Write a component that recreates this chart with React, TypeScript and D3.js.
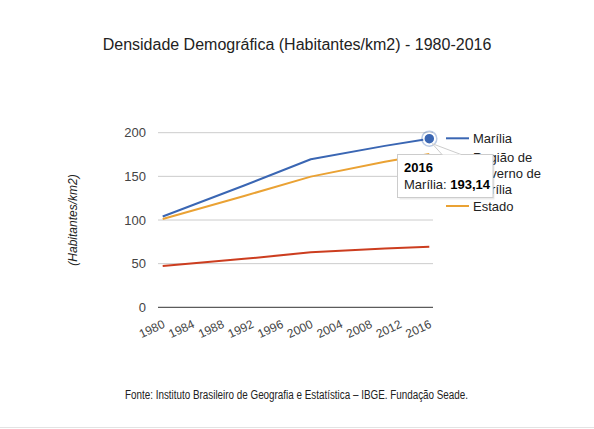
import React from "react";
import * as d3 from "d3";

const years = [1980, 1991, 2000, 2010, 2016];
const mariliaValues = [104, 139.5, 169.6, 184.9, 193.14];
const regiaoValues = [47.3, 55.5, 63, 67.3, 69.5];
const estadoValues = [101.2, 127.5, 149.7, 166.8, 175.5];
const xTickLabels = [1980, 1984, 1988, 1992, 1996, 2000, 2004, 2008, 2012, 2016];
const yTickValues = [0, 50, 100, 150, 200];
const seriesNames = ["Marília", "Região de Governo de Marília", "Estado"];
const legendLines = [["Marília"], ["Região de", "Governo de", "Marília"], ["Estado"]];

const W = 594;
const H = 429;
const colors = ["#3a66b3", "#cc3d1f", "#eaa234"];
const FONT = "Arial, 'Liberation Sans', sans-serif";

export default function App() {
  const x = d3.scaleLinear().domain([1980, 2016]).range([162.7, 429.3]);
  const y = d3.scaleLinear().domain([0, 200]).range([307.3, 132.7]);
  const line = d3
    .line<[number, number]>()
    .x((d) => x(d[0]))
    .y((d) => y(d[1]))
    .curve(d3.curveLinear);
  const series = [mariliaValues, regiaoValues, estadoValues];
  const gridX0 = 158;
  const gridX1 = 433;

  const lastYear = years[years.length - 1];
  const lastVal = mariliaValues[mariliaValues.length - 1];
  const px = x(lastYear);
  const py = y(lastVal);

  const legendX = 446;
  const legendRowY = [138.3, 157.7, 206];
  const legendLineH = 15.7;

  return (
    <svg
      width={W}
      height={H}
      style={{ position: "absolute", left: 0, top: 0, background: "#fff" }}
      fontFamily={FONT}
    >
      <rect x={0} y={0} width={W} height={H} fill="#fff" />
      <text x={297} y={50} textAnchor="middle" fontSize={16} fill="#222">
        Densidade Demográfica (Habitantes/km2) - 1980-2016
      </text>

      {yTickValues.map((v) => (
        <g key={v}>
          {v !== 0 && (
            <line x1={gridX0} x2={gridX1} y1={y(v)} y2={y(v)} stroke="#cccccc" strokeWidth={1} />
          )}
          <text x={146} y={y(v)} dy="0.35em" textAnchor="end" fontSize={13} fill="#444">
            {v}
          </text>
        </g>
      ))}

      {series.map((vals, i) => (
        <path
          key={seriesNames[i]}
          d={line(years.map((yr, j) => [yr, vals[j]] as [number, number])) || ""}
          fill="none"
          stroke={colors[i]}
          strokeWidth={2}
          strokeLinejoin="round"
        />
      ))}

      <line x1={gridX0} x2={gridX1} y1={y(0)} y2={y(0)} stroke="#333" strokeWidth={1} />

      {xTickLabels.map((t) => (
        <text
          key={t}
          transform={`translate(${x(t) + 3},${327}) rotate(-25)`}
          textAnchor="end"
          fontSize={12}
          fill="#444"
        >
          {t}
        </text>
      ))}

      <text
        transform={`translate(77,220) rotate(-90)`}
        textAnchor="middle"
        fontSize={12}
        fontStyle="italic"
        fill="#222"
      >
        (Habitantes/km2)
      </text>

      {legendLines.map((lines, i) => (
        <g key={seriesNames[i]}>
          <line
            x1={legendX}
            x2={legendX + 23}
            y1={legendRowY[i]}
            y2={legendRowY[i]}
            stroke={colors[i]}
            strokeWidth={2}
          />
          {lines.map((s, k) => (
            <text
              key={k}
              x={legendX + 27}
              y={legendRowY[i] + k * legendLineH}
              dy="0.35em"
              fontSize={13}
              fill="#222"
            >
              {s}
            </text>
          ))}
        </g>
      ))}

      {/* highlighted point */}
      <circle cx={px} cy={py} r={7.5} fill="none" stroke="#3a66b3" strokeOpacity={0.35} strokeWidth={1.5} />
      <circle cx={px} cy={py} r={5.5} fill="#3a66b3" stroke="#fff" strokeWidth={1.5} />

      {/* tooltip */}
      <rect x={399.5} y={156.5} width={95} height={43} fill="#000" opacity={0.08} />
      <rect x={397.5} y={154.5} width={95.5} height={43} fill="#fff" stroke="#cccccc" strokeWidth={1} />
      <polygon
        points={`${px + 3},${py + 5} 442,154.5 461,154.5`}
        fill="#fff"
        stroke="#cccccc"
        strokeWidth={1}
      />
      <line x1={442.5} x2={460.5} y1={155} y2={155} stroke="#fff" strokeWidth={1.2} />
      <text x={404} y={167} dy="0.35em" fontSize={13} fontWeight="bold" fill="#000">
        {lastYear}
      </text>
      <text x={404} y={184} dy="0.35em" fontSize={13} fill="#222">
        Marília: <tspan fontWeight="bold" fill="#000">{d3.format(".2f")(lastVal).replace(".", ",")}</tspan>
      </text>

      <text
        x={125}
        y={399}
        fontSize={12}
        fill="#222"
        textLength={343}
        lengthAdjust="spacingAndGlyphs"
      >
        Fonte: Instituto Brasileiro de Geografia e Estatística – IBGE. Fundação Seade.
      </text>
      <line x1={0} x2={W} y1={427.5} y2={427.5} stroke="#e3e3e3" strokeWidth={1} />
    </svg>
  );
}
